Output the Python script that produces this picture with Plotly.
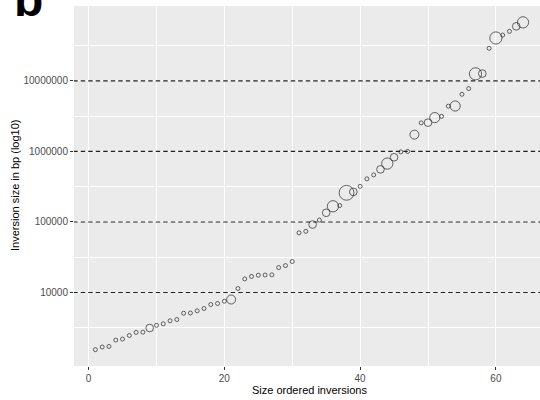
import numpy as np
import plotly.graph_objects as go

# Inversions ordered by size
rank = list(range(1, 65))
size_bp = [
    1550, 1690, 1720, 2120, 2190, 2460, 2720, 2740, 3140, 3430,
    3600, 3970, 4140, 5090, 5120, 5500, 5930, 6760, 6990, 7530,
    7960, 11400, 15600, 16900, 17600, 17700, 17800, 22600, 24100, 27500,
    70200, 73700, 92000, 106500, 135000, 167000, 171000, 259000, 267000, 320000,
    409000, 465000, 557000, 673000, 827000, 985000, 1000000, 1730000, 2540000, 2560000,
    3020000, 3140000, 4390000, 4410000, 6460000, 7780000, 12600000, 12700000, 29000000, 40600000,
    44600000, 50400000, 59400000, 67600000,
]
# number of observations supporting each inversion (point area)
support = [
    1, 1, 1, 1, 1, 1, 1, 1, 3, 1,
    1, 1, 1, 1, 1, 1, 1, 1, 1, 1,
    4, 1, 1, 1, 1, 1, 1, 1, 1, 1,
    1, 1, 3, 1, 3, 6, 1, 10, 3, 1,
    1, 1, 3, 6, 3, 1, 1, 4, 1, 3,
    5, 1, 1, 5, 1, 1, 7, 3, 1, 7,
    1, 1, 3, 6,
]
ref_lines = [10000, 100000, 1000000, 10000000]
y_ticks = [10000, 100000, 1000000, 10000000]
y_tick_text = ["10000", "100000", "1000000", "10000000"]
x_ticks = [0, 20, 40, 60]

diam = 5 * np.sqrt(np.array(support, dtype=float)) - 1

fig = go.Figure()

for v in ref_lines:
    fig.add_trace(go.Scatter(
        x=[-10, 80], y=[v, v], mode="lines",
        line=dict(color="#222222", width=1.2, dash="4.5px,3px"),
        hoverinfo="skip", showlegend=False,
    ))

fig.add_trace(go.Scatter(
    x=rank, y=size_bp, mode="markers",
    marker=dict(symbol="circle-open", size=diam, color="#262626",
                line=dict(width=1)),
    showlegend=False,
))

log_lo = np.log10(min(size_bp))
log_hi = np.log10(max(size_bp))
pad = 0.05 * (log_hi - log_lo)

minor_y = [10 ** (k + 0.5) for k in range(2, 8)]

fig.update_layout(
    width=540, height=400,
    margin=dict(l=74, r=0, t=6, b=34),
    paper_bgcolor="white",
    plot_bgcolor="#EBEBEB",
    font=dict(family="Liberation Sans, Arial, sans-serif"),
    xaxis=dict(
        range=[-2.15, 66.5],
        tickvals=x_ticks,
        ticks="outside", ticklen=3, tickcolor="#333333", tickwidth=1,
        tickfont=dict(size=10, color="#4D4D4D"),
        showgrid=True, gridcolor="white", gridwidth=1.3,
        zeroline=False, showline=False,
        minor=dict(tickvals=[10, 30, 50], showgrid=True,
                   gridcolor="white", gridwidth=0.6, ticks=""),
    ),
    yaxis=dict(
        type="log",
        range=[log_lo - pad, log_hi + pad],
        tickvals=y_ticks, ticktext=y_tick_text,
        ticks="outside", ticklen=3, tickcolor="#333333", tickwidth=1,
        tickfont=dict(size=10, color="#4D4D4D"),
        showgrid=True, gridcolor="white", gridwidth=1.3,
        zeroline=False, showline=False,
        minor=dict(tickvals=minor_y, showgrid=True,
                   gridcolor="white", gridwidth=0.6, ticks=""),
    ),
    annotations=[
        dict(text="Size ordered inversions", xref="paper", yref="paper",
             x=0.5064, y=0, xanchor="center", yanchor="middle",
             yshift=-23.5, showarrow=False,
             font=dict(size=11, color="black")),
        dict(text="Inversion size in bp (log10)", xref="paper", yref="paper",
             x=0, y=0.5, xanchor="center", yanchor="middle",
             xshift=-59, textangle=-90, showarrow=False,
             font=dict(size=11, color="black")),
        dict(text="<b>b</b>", xref="paper", yref="paper",
             x=0, y=1, xanchor="left", yanchor="middle",
             xshift=-62, yshift=7, showarrow=False,
             font=dict(size=48, color="black")),
    ],
)

fig.write_html("out.html")
